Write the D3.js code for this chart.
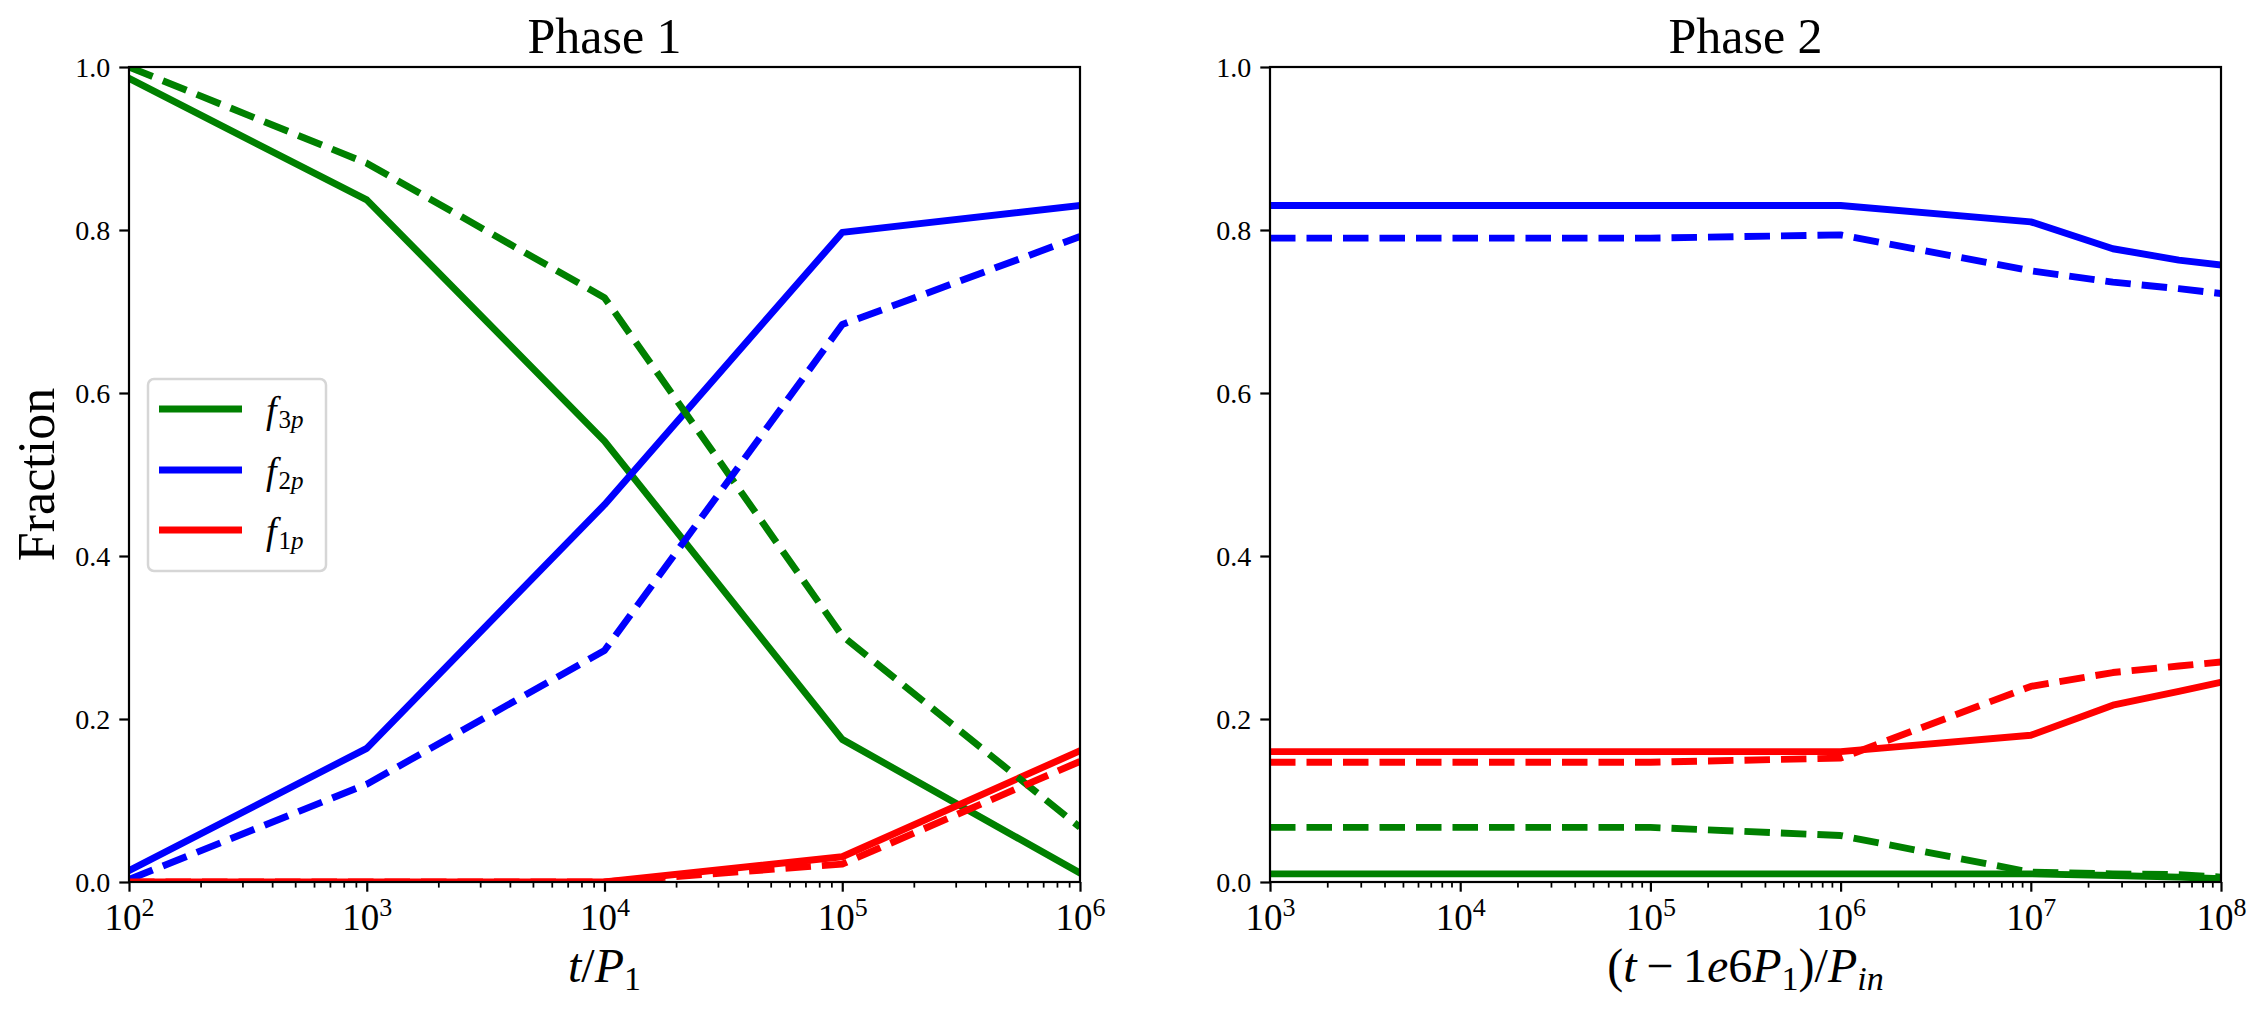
<!DOCTYPE html>
<html><head><meta charset="utf-8">
<script src="https://cdn.jsdelivr.net/npm/d3@7"></script>
<style>
body{margin:0;background:#fff}
svg{display:block}
text{font-family:"Liberation Serif","Times New Roman",serif;fill:#000}
</style>
</head><body>
<svg id="chart" width="2260" height="1012"></svg>
<script>
// ---------- data ----------
const phase1Times = [1e2, 1e3, 1e4, 1e5, 1e6];
const p1_f3p_solid  = [0.986, 0.837, 0.541, 0.175, 0.011];
const p1_f3p_dashed = [1.000, 0.882, 0.717, 0.302, 0.067];
const p1_f2p_solid  = [0.014, 0.164, 0.463, 0.797, 0.830];
const p1_f2p_dashed = [0.003, 0.120, 0.284, 0.684, 0.792];
const p1_f1p_solid  = [0.000, 0.000, 0.000, 0.031, 0.161];
const p1_f1p_dashed = [0.000, 0.000, 0.000, 0.022, 0.148];

const phase2Times = [1e3, 1e4, 1e5, 1e6, 1e7, 2.7e7, 6e7, 1e8];
const p2_f3p_solid  = [0.010, 0.010, 0.010, 0.010, 0.010, 0.008, 0.006, 0.004];
const p2_f3p_dashed = [0.067, 0.067, 0.067, 0.057, 0.012, 0.010, 0.009, 0.006];
const p2_f2p_solid  = [0.830, 0.830, 0.830, 0.830, 0.810, 0.777, 0.763, 0.757];
const p2_f2p_dashed = [0.790, 0.790, 0.790, 0.794, 0.750, 0.736, 0.728, 0.722];
const p2_f1p_solid  = [0.160, 0.160, 0.160, 0.160, 0.180, 0.217, 0.234, 0.245];
const p2_f1p_dashed = [0.147, 0.147, 0.147, 0.152, 0.240, 0.257, 0.265, 0.270];

const seriesNames  = ["f3p", "f2p", "f1p"];
const seriesColors = ["#008000", "#0000ff", "#ff0000"];
const legendSubs   = ["3p", "2p", "1p"];
const yTickValues  = [0.0, 0.2, 0.4, 0.6, 0.8, 1.0];
const phase1Exps   = [2, 3, 4, 5, 6];
const phase2Exps   = [3, 4, 5, 6, 7, 8];
const titles       = ["Phase 1", "Phase 2"];

// ---------- layout ----------
const svg = d3.select("#chart");
const yTop = 67, yBot = 882;
const panels = [
  {x0: 129, x1: 1080, exps: phase1Exps, times: phase1Times, title: titles[0],
   solid: [p1_f3p_solid, p1_f2p_solid, p1_f1p_solid],
   dashed: [p1_f3p_dashed, p1_f2p_dashed, p1_f1p_dashed]},
  {x0: 1270, x1: 2221, exps: phase2Exps, times: phase2Times, title: titles[1],
   solid: [p2_f3p_solid, p2_f2p_solid, p2_f1p_solid],
   dashed: [p2_f3p_dashed, p2_f2p_dashed, p2_f1p_dashed]}
];
const LW = 6.9, TW = 2.2, MAJ = 9.7, MIN = 5.6;

panels.forEach((p, pi) => {
  const x = d3.scaleLog().domain([Math.pow(10, p.exps[0]), Math.pow(10, p.exps[p.exps.length-1])]).range([p.x0, p.x1]);
  const y = d3.scaleLinear().domain([0, 1]).range([yBot, yTop]);

  const clipId = "clip" + pi;
  svg.append("clipPath").attr("id", clipId).append("rect")
    .attr("x", p.x0).attr("y", yTop).attr("width", p.x1 - p.x0).attr("height", yBot - yTop);

  const g = svg.append("g").attr("clip-path", `url(#${clipId})`);
  const line = d3.line().x(d => x(d[0])).y(d => y(d[1]));

  p.solid.forEach((vals, i) => {
    g.append("path").datum(p.times.map((t, k) => [t, vals[k]]))
      .attr("d", line).attr("fill", "none").attr("stroke", seriesColors[i])
      .attr("stroke-width", LW).attr("stroke-linecap", "square").attr("stroke-linejoin", "round");
  });
  p.dashed.forEach((vals, i) => {
    g.append("path").datum(p.times.map((t, k) => [t, vals[k]]))
      .attr("d", line).attr("fill", "none").attr("stroke", seriesColors[i])
      .attr("stroke-width", LW).attr("stroke-dasharray", "25.5,11")
      .attr("stroke-linecap", "butt").attr("stroke-linejoin", "round");
  });

  // frame
  svg.append("rect").attr("x", p.x0).attr("y", yTop).attr("width", p.x1 - p.x0).attr("height", yBot - yTop)
    .attr("fill", "none").attr("stroke", "#000").attr("stroke-width", TW);

  // y axis
  const ya = svg.append("g").attr("transform", `translate(${p.x0},0)`)
    .call(d3.axisLeft(y).tickValues(yTickValues).tickSize(MAJ).tickPadding(9).tickFormat(d3.format(".1f")));
  ya.attr("font-family", null);
  ya.select(".domain").remove();
  ya.selectAll(".tick line").attr("stroke-width", TW);
  ya.selectAll(".tick text").attr("font-size", 28).attr("font-family", "Liberation Serif").attr("dy", "0.34em");

  // x minor ticks
  const minors = [];
  for (let e = p.exps[0]; e < p.exps[p.exps.length-1]; e++)
    for (let k = 2; k <= 9; k++) minors.push(k * Math.pow(10, e));
  const xm = svg.append("g").attr("transform", `translate(0,${yBot})`)
    .call(d3.axisBottom(x).tickValues(minors).tickSize(MIN).tickFormat(""));
  xm.select(".domain").remove();
  xm.selectAll(".tick line").attr("stroke-width", TW * 0.8);

  // x major ticks
  const majors = p.exps.map(e => Math.pow(10, e));
  const xa = svg.append("g").attr("transform", `translate(0,${yBot})`)
    .call(d3.axisBottom(x).tickValues(majors).tickSize(MAJ).tickFormat(""));
  xa.attr("font-family", null);
  xa.select(".domain").remove();
  xa.selectAll(".tick line").attr("stroke-width", TW);
  xa.selectAll(".tick text").each(function(d) {
    const t = d3.select(this);
    t.attr("y", 48).attr("dy", null).attr("font-size", 37).attr("text-anchor", "middle")
     .attr("font-family", "Liberation Serif");
    t.append("tspan").text("10");
    t.append("tspan").attr("font-size", 26).attr("dy", -14).text(Math.round(Math.log10(d)));
  });

  // title
  svg.append("text").attr("x", (p.x0 + p.x1) / 2).attr("y", 53).attr("text-anchor", "middle")
    .attr("font-size", 50).text(p.title);
});

// x labels
const xl1 = svg.append("text").attr("x", (129 + 1080) / 2).attr("y", 982).attr("text-anchor", "middle").attr("font-size", 48);
xl1.append("tspan").attr("font-style", "italic").text("t");
xl1.append("tspan").text("/");
xl1.append("tspan").attr("font-style", "italic").text("P");
xl1.append("tspan").attr("font-size", 34).attr("dy", 8).text("1");

const xl2 = svg.append("text").attr("x", (1270 + 2221) / 2).attr("y", 982).attr("text-anchor", "middle").attr("font-size", 48);
xl2.append("tspan").text("(");
xl2.append("tspan").attr("font-style", "italic").text("t");
xl2.append("tspan").text("\u2009\u2212\u20091");
xl2.append("tspan").attr("font-style", "italic").text("e");
xl2.append("tspan").text("6");
xl2.append("tspan").attr("font-style", "italic").text("P");
xl2.append("tspan").attr("font-size", 34).attr("dy", 8).text("1");
xl2.append("tspan").attr("dy", -8).text(")/");
xl2.append("tspan").attr("font-style", "italic").text("P");
xl2.append("tspan").attr("font-size", 34).attr("font-style", "italic").attr("dy", 8).text("in");

// y label
svg.append("text").attr("transform", `translate(54,${(yTop + yBot) / 2}) rotate(-90)`)
  .attr("text-anchor", "middle").attr("font-size", 52).text("Fraction");

// legend
const lg = svg.append("g");
lg.append("rect").attr("x", 148).attr("y", 379).attr("width", 178).attr("height", 192)
  .attr("rx", 6).attr("fill", "#fff").attr("fill-opacity", 0.8).attr("stroke", "#d6d6d6").attr("stroke-width", 2.5);
const rowY = [409, 470, 530];
seriesNames.forEach((n, i) => {
  lg.append("line").attr("x1", 159).attr("x2", 242).attr("y1", rowY[i]).attr("y2", rowY[i])
    .attr("stroke", seriesColors[i]).attr("stroke-width", LW);
  const t = lg.append("text").attr("x", 266).attr("y", rowY[i] + 14).attr("font-size", 38);
  t.append("tspan").attr("font-style", "italic").text("f");
  const s = t.append("tspan").attr("font-size", 25).attr("dy", 5).attr("dx", 2);
  s.append("tspan").text(legendSubs[i][0]);
  s.append("tspan").attr("font-style", "italic").text(legendSubs[i][1]);
});
</script>
</body></html>
